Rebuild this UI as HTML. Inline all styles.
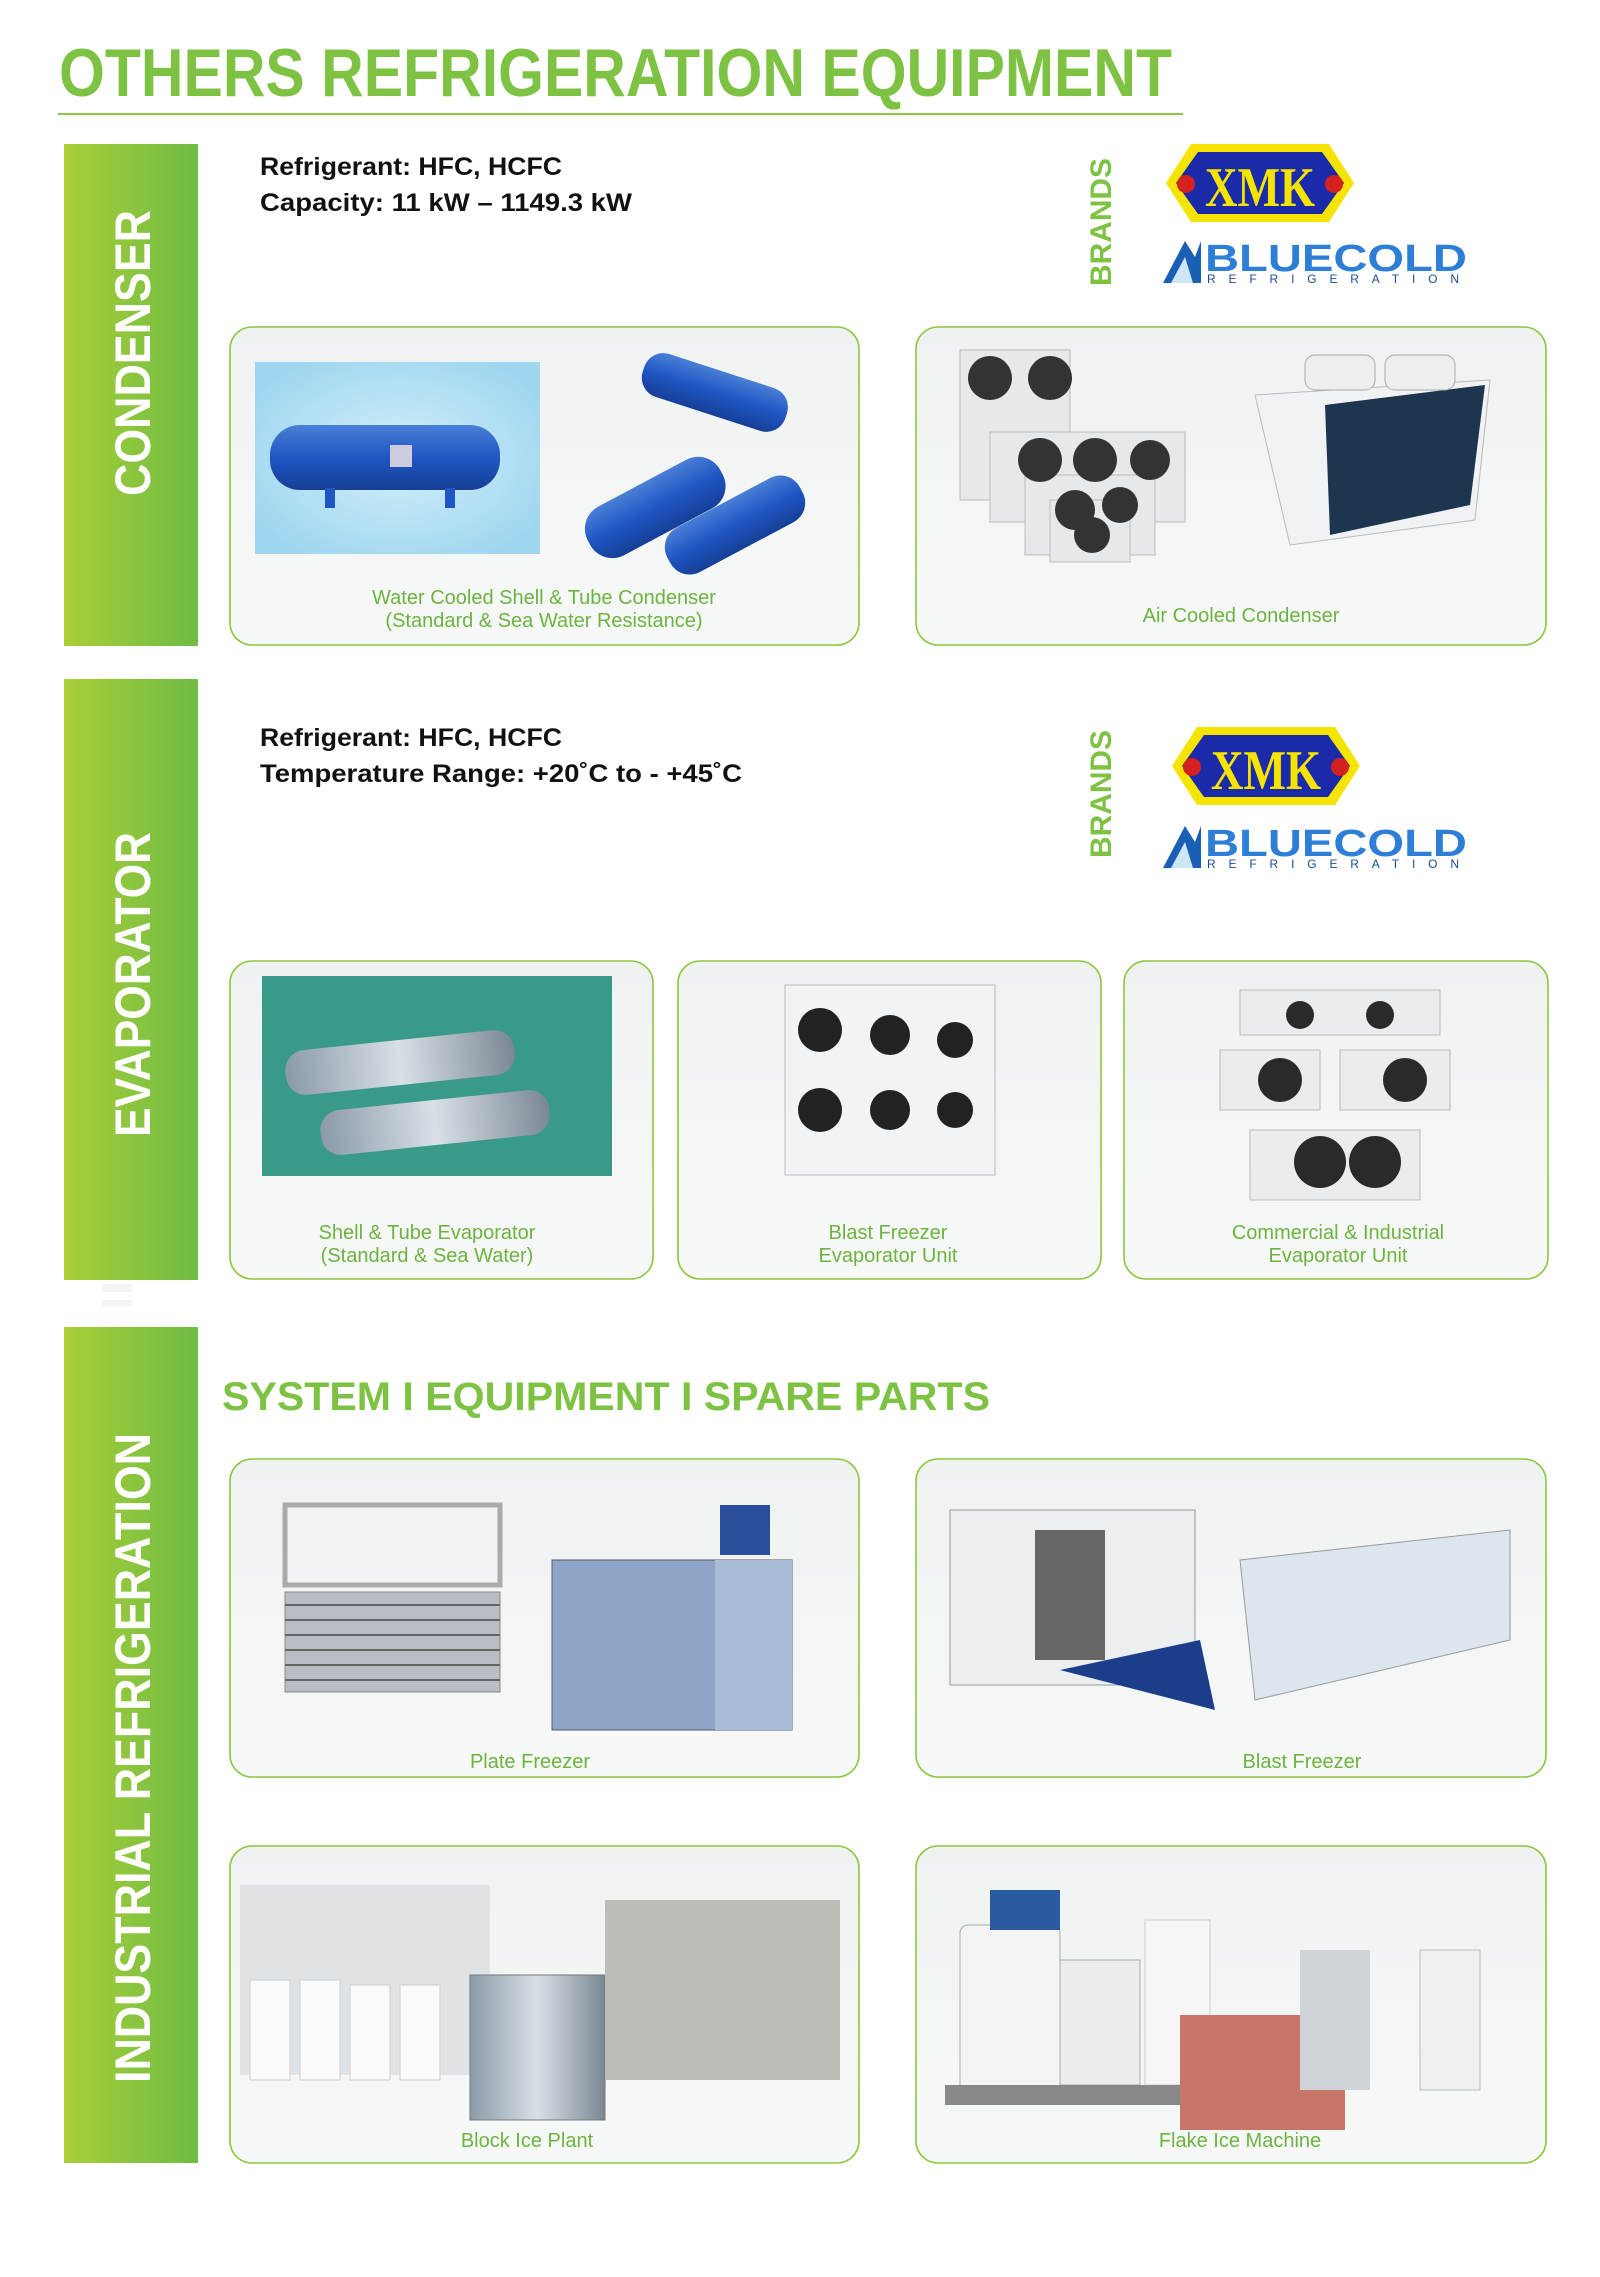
<!DOCTYPE html>
<html><head><meta charset="utf-8"><style>
html,body{margin:0;padding:0;background:#fff;}
svg{display:block;}
</style></head><body>
<svg width="1600" height="2277" viewBox="0 0 1600 2277" xmlns="http://www.w3.org/2000/svg" font-family="'Liberation Sans', sans-serif">
<defs>
<linearGradient id="bar" x1="0" y1="0" x2="1" y2="0">
<stop offset="0" stop-color="#a9cf38"/><stop offset="1" stop-color="#6fbb44"/>
</linearGradient>
<linearGradient id="card" x1="0" y1="0" x2="0" y2="1">
<stop offset="0" stop-color="#eef2f1"/><stop offset="1" stop-color="#f7f9f8"/>
</linearGradient>
<linearGradient id="blue" x1="0" y1="0" x2="0" y2="1">
<stop offset="0" stop-color="#4a7fd6"/><stop offset="0.5" stop-color="#1f56c4"/><stop offset="1" stop-color="#163f96"/>
</linearGradient>
<linearGradient id="steel" x1="0" y1="0" x2="1" y2="0">
<stop offset="0" stop-color="#8a9aa8"/><stop offset="0.5" stop-color="#d8e0e6"/><stop offset="1" stop-color="#7a8894"/>
</linearGradient>
<radialGradient id="icebg" cx="0.5" cy="0.5" r="0.6">
<stop offset="0" stop-color="#d4f0fa"/><stop offset="1" stop-color="#9fd6ef"/>
</radialGradient>
<g id="xmk">
<rect x="0" y="0" width="228" height="98" fill="#fff"/>
<polygon points="20,49 45,10 183,10 208,49 183,88 45,88" fill="#f5e400"/>
<polygon points="30,49 52,18 176,18 198,49 176,80 52,80" fill="#1a2aa8"/>
<text x="114" y="72" text-anchor="middle" font-family="'Liberation Serif',serif" font-size="56" fill="#f5e400" font-weight="bold" textLength="110" lengthAdjust="spacingAndGlyphs">XMK</text>
<circle cx="40" cy="50" r="9" fill="#d42020"/><circle cx="188" cy="50" r="9" fill="#d42020"/>
</g>
<g id="bc">
<polygon points="0,46 22,4 32,20 38,4 38,46" fill="#1a5fb4"/>
<polygon points="8,46 22,20 30,46" fill="#cfe6f7"/>
<text x="42" y="34" font-family="'Liberation Sans',sans-serif" font-weight="bold" font-size="38" fill="#2d7ed6" textLength="262" lengthAdjust="spacingAndGlyphs">BLUECOLD</text>
<text x="44" y="46" font-family="'Liberation Sans',sans-serif" font-size="12" fill="#1a4a9a" letter-spacing="6" textLength="258" lengthAdjust="spacing">REFRIGERATION</text>
</g>
</defs>

<text x="59" y="96" font-size="68" font-weight="bold" fill="#7dc242" textLength="1113" lengthAdjust="spacingAndGlyphs">OTHERS REFRIGERATION  EQUIPMENT</text>
<rect x="58" y="113" width="1125" height="2" fill="#8dc63f"/>

<rect x="64" y="144" width="134" height="502" fill="url(#bar)"/>
<rect x="64" y="679" width="134" height="601" fill="url(#bar)"/>
<rect x="64" y="1327" width="134" height="836" fill="url(#bar)"/>
<rect x="102" y="1284" width="30" height="8" fill="#f2f4f5"/>
<rect x="102" y="1300" width="30" height="6" fill="#f2f4f5"/>

<text transform="translate(150,496) rotate(-90)" font-size="50" font-weight="bold" fill="#fff" textLength="286" lengthAdjust="spacingAndGlyphs">CONDENSER</text>
<text transform="translate(150,1137) rotate(-90)" font-size="50" font-weight="bold" fill="#fff" textLength="305" lengthAdjust="spacingAndGlyphs">EVAPORATOR</text>
<text transform="translate(150,2083) rotate(-90)" font-size="50" font-weight="bold" fill="#fff" textLength="650" lengthAdjust="spacingAndGlyphs">INDUSTRIAL REFRIGERATION</text>

<text x="260" y="175" font-size="25" font-weight="bold" fill="#111" textLength="302" lengthAdjust="spacingAndGlyphs">Refrigerant: HFC, HCFC</text>
<text x="260" y="211" font-size="25" font-weight="bold" fill="#111" textLength="372" lengthAdjust="spacingAndGlyphs">Capacity: 11 kW – 1149.3 kW</text>
<text transform="translate(1111,286) rotate(-90)" font-size="30" font-weight="bold" fill="#7dc242" textLength="128" lengthAdjust="spacingAndGlyphs">BRANDS</text>
<use href="#xmk" x="1146" y="134"/>
<use href="#bc" x="1163" y="237"/>

<text x="260" y="746" font-size="25" font-weight="bold" fill="#111" textLength="302" lengthAdjust="spacingAndGlyphs">Refrigerant: HFC, HCFC</text>
<text x="260" y="782" font-size="25" font-weight="bold" fill="#111" textLength="482" lengthAdjust="spacingAndGlyphs">Temperature Range: +20˚C to - +45˚C</text>
<text transform="translate(1111,858) rotate(-90)" font-size="30" font-weight="bold" fill="#7dc242" textLength="128" lengthAdjust="spacingAndGlyphs">BRANDS</text>
<use href="#xmk" x="1152" y="717"/>
<use href="#bc" x="1163" y="822"/>

<text x="222" y="1410" font-size="40" font-weight="bold" fill="#7dc242" textLength="768" lengthAdjust="spacingAndGlyphs">SYSTEM   I   EQUIPMENT   I   SPARE PARTS</text>

<g fill="url(#card)" stroke="#8dc63f" stroke-width="1.6">
<rect x="230" y="327" width="629" height="318" rx="22"/>
<rect x="916" y="327" width="630" height="318" rx="22"/>
<rect x="230" y="961" width="423" height="318" rx="22"/>
<rect x="678" y="961" width="423" height="318" rx="22"/>
<rect x="1124" y="961" width="424" height="318" rx="22"/>
<rect x="230" y="1459" width="629" height="318" rx="22"/>
<rect x="916" y="1459" width="630" height="318" rx="22"/>
<rect x="230" y="1846" width="629" height="317" rx="22"/>
<rect x="916" y="1846" width="630" height="317" rx="22"/>
</g>

<rect x="255" y="362" width="285" height="192" fill="url(#icebg)"/>
<rect x="270" y="425" width="230" height="65" rx="30" fill="url(#blue)"/>
<rect x="325" y="488" width="10" height="20" fill="#1f56c4"/><rect x="445" y="488" width="10" height="20" fill="#1f56c4"/>
<rect x="390" y="445" width="22" height="22" fill="#ccd"/>
<rect x="640" y="370" width="150" height="45" rx="20" fill="url(#blue)" transform="rotate(18 715 392)"/>
<rect x="580" y="480" width="150" height="55" rx="25" fill="url(#blue)" transform="rotate(-28 655 507)"/>
<rect x="660" y="500" width="150" height="50" rx="22" fill="url(#blue)" transform="rotate(-28 735 525)"/>
<g fill="#e6e8ea" stroke="#bbb">
<rect x="960" y="350" width="110" height="150"/>
<rect x="990" y="432" width="195" height="90"/>
<rect x="1025" y="475" width="130" height="80"/>
<rect x="1050" y="500" width="80" height="62"/>
</g>
<g fill="#333">
<circle cx="990" cy="378" r="22"/><circle cx="1050" cy="378" r="22"/>
<circle cx="1040" cy="460" r="22"/><circle cx="1095" cy="460" r="22"/><circle cx="1150" cy="460" r="20"/>
<circle cx="1075" cy="510" r="20"/><circle cx="1120" cy="505" r="18"/><circle cx="1092" cy="535" r="18"/>
</g>
<polygon points="1255,395 1490,380 1475,520 1290,545" fill="#f0f2f4" stroke="#bbb"/>
<polygon points="1325,405 1485,385 1470,505 1330,535" fill="#1e3550"/>
<rect x="1305" y="355" width="70" height="35" rx="10" fill="#eee" stroke="#aaa"/>
<rect x="1385" y="355" width="70" height="35" rx="10" fill="#eee" stroke="#aaa"/>

<rect x="262" y="976" width="350" height="200" fill="#3a9a8a"/>
<rect x="285" y="1040" width="230" height="45" rx="20" fill="url(#steel)" transform="rotate(-6 400 1062)"/>
<rect x="320" y="1100" width="230" height="45" rx="20" fill="url(#steel)" transform="rotate(-6 435 1122)"/>
<rect x="785" y="985" width="210" height="190" fill="#f2f3f4" stroke="#bbb"/>
<g fill="#222"><circle cx="820" cy="1030" r="22"/><circle cx="890" cy="1035" r="20"/><circle cx="955" cy="1040" r="18"/>
<circle cx="820" cy="1110" r="22"/><circle cx="890" cy="1110" r="20"/><circle cx="955" cy="1110" r="18"/></g>
<g fill="#eaeced" stroke="#bbb">
<rect x="1240" y="990" width="200" height="45"/><rect x="1220" y="1050" width="100" height="60"/><rect x="1340" y="1050" width="110" height="60"/><rect x="1250" y="1130" width="170" height="70"/></g>
<g fill="#2a2a2a"><circle cx="1300" cy="1015" r="14"/><circle cx="1380" cy="1015" r="14"/><circle cx="1280" cy="1080" r="22"/><circle cx="1405" cy="1080" r="22"/><circle cx="1320" cy="1162" r="26"/><circle cx="1375" cy="1162" r="26"/></g>

<rect x="285" y="1505" width="215" height="80" fill="none" stroke="#aaa" stroke-width="5"/>
<g fill="#b8bec4" stroke="#888"><rect x="285" y="1592" width="215" height="100"/></g>
<g stroke="#666" stroke-width="2"><line x1="285" y1="1605" x2="500" y2="1605"/><line x1="285" y1="1620" x2="500" y2="1620"/><line x1="285" y1="1635" x2="500" y2="1635"/><line x1="285" y1="1650" x2="500" y2="1650"/><line x1="285" y1="1665" x2="500" y2="1665"/><line x1="285" y1="1680" x2="500" y2="1680"/></g>
<rect x="552" y="1560" width="240" height="170" fill="#8ea5c8" stroke="#556"/>
<rect x="715" y="1560" width="77" height="170" fill="#a9bcd8"/>
<rect x="720" y="1505" width="50" height="50" fill="#2a4f9a"/>
<rect x="950" y="1510" width="245" height="175" fill="#eceeef" stroke="#999"/>
<rect x="1035" y="1530" width="70" height="130" fill="#666"/>
<polygon points="1060,1670 1200,1640 1215,1710" fill="#1c3d8a"/>
<polygon points="1240,1560 1510,1530 1510,1640 1255,1700" fill="#dde6ee" stroke="#999"/>
<rect x="240" y="1885" width="250" height="190" fill="#dfe3e6"/>
<g fill="#fafafa" stroke="#ccc"><rect x="250" y="1980" width="40" height="100"/><rect x="300" y="1980" width="40" height="100"/><rect x="350" y="1985" width="40" height="95"/><rect x="400" y="1985" width="40" height="95"/></g>
<rect x="470" y="1975" width="135" height="145" fill="url(#steel)" stroke="#777"/>
<rect x="605" y="1900" width="235" height="180" fill="#b9bfb6"/>
<rect x="960" y="1925" width="100" height="175" rx="8" fill="#f4f4f4" stroke="#aaa"/>
<rect x="990" y="1890" width="70" height="40" fill="#2a5aa0"/>
<rect x="1060" y="1960" width="80" height="125" fill="#ececec" stroke="#aaa"/>
<rect x="1145" y="1920" width="65" height="165" fill="#f6f6f6" stroke="#ccc"/>
<rect x="945" y="2085" width="240" height="20" fill="#888"/>
<rect x="1180" y="2015" width="165" height="115" fill="#c9766a"/>
<rect x="1300" y="1950" width="70" height="140" fill="#cfd4d8"/>
<rect x="1420" y="1950" width="60" height="140" fill="#f0f0f0" stroke="#bbb"/>

<g font-size="20" fill="#6db33f" text-anchor="middle">
<text x="544" y="604">Water Cooled Shell &amp; Tube Condenser</text>
<text x="544" y="627">(Standard &amp; Sea Water Resistance)</text>
<text x="1241" y="622">Air Cooled Condenser</text>
<text x="427" y="1239">Shell &amp; Tube Evaporator</text>
<text x="427" y="1262">(Standard &amp; Sea Water)</text>
<text x="888" y="1239">Blast Freezer</text>
<text x="888" y="1262">Evaporator Unit</text>
<text x="1338" y="1239">Commercial &amp; Industrial</text>
<text x="1338" y="1262">Evaporator Unit</text>
<text x="530" y="1768">Plate Freezer</text>
<text x="1302" y="1768">Blast Freezer</text>
<text x="527" y="2147">Block Ice Plant</text>
<text x="1240" y="2147">Flake Ice Machine</text>
</g>
</svg>
</body></html>
